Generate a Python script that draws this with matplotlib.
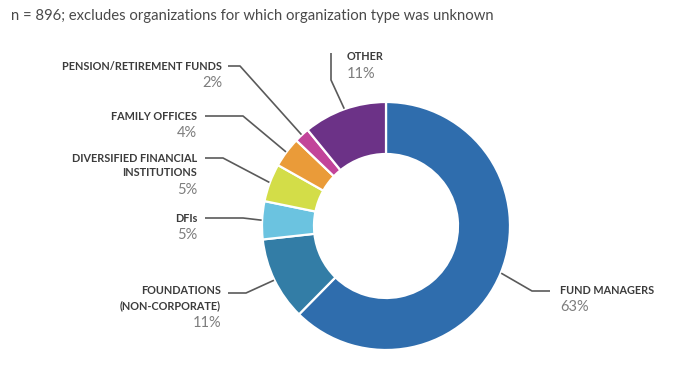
import numpy as np
import matplotlib
matplotlib.use("Agg")
import matplotlib.pyplot as plt

# ---- data ----
categories = ["FUND MANAGERS", "FOUNDATIONS\n(NON-CORPORATE)", "DFIs",
              "DIVERSIFIED FINANCIAL\nINSTITUTIONS", "FAMILY OFFICES",
              "PENSION/RETIREMENT FUNDS", "OTHER"]
values = [63, 11, 5, 5, 4, 2, 11]
pct_labels = ["63%", "11%", "5%", "5%", "4%", "2%", "11%"]
colors = ["#2F6DAD", "#337DA6", "#6BC3E0", "#D3DD48", "#EA9B39", "#C2449A", "#6C3287"]
title = "n = 896; excludes organizations for which organization type was unknown"

W, H = 675, 369
fig = plt.figure(figsize=(W / 100, H / 100), dpi=100)
ax = fig.add_axes([0, 0, 1, 1])

def Y(py):
    return H - py

cx, cy, R, ring = 386, Y(226), 124, 52
wedges, _ = ax.pie(values, colors=colors, startangle=90, counterclock=False,
                   center=(cx, cy), radius=R,
                   wedgeprops=dict(width=ring, edgecolor="white", linewidth=1.6))
ax.set_xlim(0, W)
ax.set_ylim(0, H)
ax.set_aspect("auto")
ax.axis("off")

# layout: (elbow_px, end_px, text_x, text_y, ha)
layout = [
    ((532, 291), (550, 291), 560, 290, "left"),
    ((246, 293), (228, 293), 221, 291, "right"),
    ((243, 218), (205, 218), 197, 218, "right"),
    ((223, 158), (205, 158), 197, 158, "right"),
    ((243, 116), (205, 116), 197, 116, "right"),
    ((240, 66), (228, 66), 222, 66, "right"),
    ((331, 80), (331, 53), 347, 57, "left"),
]

lab_kw = dict(fontfamily=["Lato", "DejaVu Sans"], fontweight="bold", fontsize=7.8, color="#3c3c3c")
pct_kw = dict(fontfamily=["Lato", "DejaVu Sans"], fontsize=10.5, color="#7d7d7d")

for w, cat, pct, (elb, end, tx, ty, ha) in zip(wedges, categories, pct_labels, layout):
    mid = np.deg2rad((w.theta1 + w.theta2) / 2)
    ax0 = cx + (R + 0.5) * np.cos(mid)
    ay0 = cy + (R + 0.5) * np.sin(mid)
    ax.plot([ax0, elb[0], end[0]], [ay0, Y(elb[1]), Y(end[1])],
            color="#5a5a5a", lw=1.2, solid_capstyle="butt")
    lines = cat.split("\n")
    for i, line in enumerate(lines):
        ax.text(tx, Y(ty + 15 * i), line, ha=ha, va="center", **lab_kw)
    ax.text(tx, Y(ty + 15 * (len(lines) - 1) + 17), pct, ha=ha, va="center", **pct_kw)

ax.text(11, Y(16), title, ha="left", va="center",
        fontfamily=["Lato", "DejaVu Sans"], fontsize=10.7, color="#4a4a4a")

fig.savefig("out.png", dpi=100)
